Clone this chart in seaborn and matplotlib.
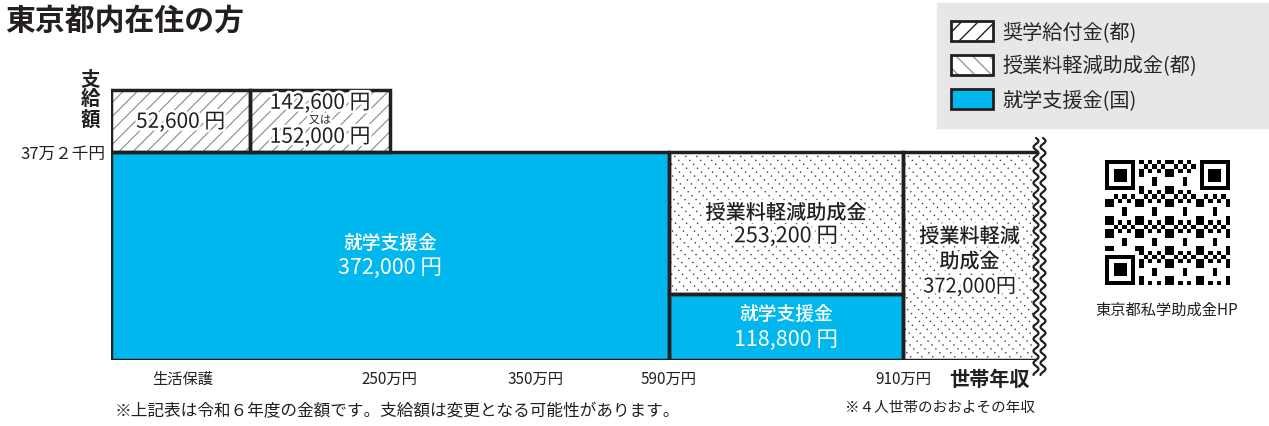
import numpy as np
import seaborn as sns
import matplotlib.pyplot as plt
import matplotlib.patheffects as pe
from matplotlib.patches import Patch, Rectangle
from matplotlib.legend_handler import HandlerTuple

sns.set_theme(style='white')
plt.rcParams['font.family'] = ['Noto Sans CJK JP', 'DejaVu Sans']

# --- data ---
income_labels = ['生活保護', '250万円', '350万円', '590万円', '910万円']
scholarship_text = ['52,600 円', '142,600 円', '152,000 円']   # 奨学給付金(都)
support_amounts = [372000, 118800]     # 就学支援金(国)
tuition_amounts = [253200, 372000]     # 授業料軽減助成金(都)
max_amount = 372000
legend_labels = ['奨学給付金(都)', '授業料軽減助成金(都)', '就学支援金(国)']

# --- layout (schematic, not to income scale) ---
col_edges = [0, 139, 279, 558, 792, 935]
tick_pos = [72, 278, 425, 558, 792]
band_h = 0.30 * max_amount

BLUE = '#00b7ee'
INK = '#231f20'
W, H = 1269, 426

fig = plt.figure(figsize=(W / 100, H / 100), dpi=100)
ax = fig.add_axes([111 / W, 66 / H, 949 / W, 280 / H])
ax.set_xlim(0, 949)
ytop = 280 * max_amount / 208
ax.set_ylim(0, ytop)
ypp = ytop / 280  # yen per pixel
halo = [pe.withStroke(linewidth=4, foreground='white')]


def block(x0, x1, y0, h, face, lines=None):
    fill = ax.bar(x0, h, width=x1 - x0, bottom=y0, align='edge',
                  color=face, lw=0, zorder=1)[0]
    if lines:
        step, sign, style = lines
        hpx = h / ypp
        for c in np.arange(x0 - hpx, x1 + step, step):
            ys = [y0, y0 + h] if sign > 0 else [y0 + h, y0]
            ln, = ax.plot([c, c + hpx], ys, zorder=2, **style)
            ln.set_clip_path(fill)
    ax.bar(x0, h, width=x1 - x0, bottom=y0, align='edge', fill=False,
           edgecolor=INK, lw=2.5, zorder=3)


sch_style = (14, 1, dict(color='#8a8a8a', lw=0.8))
tui_style = (11, -1, dict(color='#3a3a3a', lw=1.0, ls=(0, (1, 3))))

# 就学支援金(国)
block(col_edges[0], col_edges[3], 0, support_amounts[0], BLUE)
block(col_edges[3], col_edges[4], 0, support_amounts[1], BLUE)
# 授業料軽減助成金(都)
block(col_edges[3], col_edges[4], support_amounts[1], tuition_amounts[0], 'white', tui_style)
block(col_edges[4], col_edges[5], 0, tuition_amounts[1], 'white', tui_style)
# 奨学給付金(都)
block(col_edges[0], col_edges[1], max_amount, band_h, 'white', sch_style)
block(col_edges[1], col_edges[2], max_amount, band_h, 'white', sch_style)

# wavy break on the right
ypx = np.linspace(-15, 222, 400)
wy = ypx * ypp
wl = 925 + 2.5 * np.sin(2 * np.pi * ypx / 12)
wr = wl + 7
ax.fill_betweenx(wy, wl, 965, color='white', zorder=4, clip_on=False)
ax.plot(wl, wy, color=INK, lw=1.6, zorder=5, clip_on=False)
ax.plot(wr, wy, color=INK, lw=1.6, zorder=5, clip_on=False)


# block labels
def mid(a, b):
    return (a + b) / 2


tk = dict(ha='center', va='center', zorder=6)
cx = mid(col_edges[0], col_edges[3])
cy = support_amounts[0] / 2
ax.text(cx, cy + 13 * ypp, '就学支援金', color='white', fontsize=13.5, fontweight='medium', **tk)
ax.text(cx, cy - 12 * ypp, f'{support_amounts[0]:,} 円', color='white', fontsize=15.5, **tk)

cx = mid(col_edges[3], col_edges[4])
cy = support_amounts[1] + tuition_amounts[0] / 2 - 2 * ypp
ax.text(cx, cy + 11.5 * ypp, '授業料軽減助成金', color=INK, fontsize=14.5, fontweight='medium', path_effects=halo, **tk)
ax.text(cx, cy - 11.5 * ypp, f'{tuition_amounts[0]:,} 円', color=INK, fontsize=15.5, path_effects=halo, **tk)

cy = support_amounts[1] / 2
ax.text(cx, cy + 12.5 * ypp, '就学支援金', color='white', fontsize=13.5, fontweight='medium', **tk)
ax.text(cx, cy - 13 * ypp, f'{support_amounts[1]:,} 円', color='white', fontsize=15.5, **tk)

cx = mid(col_edges[4], 925)
cy = tuition_amounts[1] / 2 - 6 * ypp
ax.text(cx, cy + 25 * ypp, '授業料軽減', color=INK, fontsize=14.5, fontweight='medium', path_effects=halo, **tk)
ax.text(cx, cy, '助成金', color=INK, fontsize=14.5, fontweight='medium', path_effects=halo, **tk)
ax.text(cx, cy - 25 * ypp, f'{tuition_amounts[1]:,}円', color=INK, fontsize=14.5, path_effects=halo, **tk)

cy = max_amount + band_h / 2
ax.text(mid(col_edges[0], col_edges[1]), cy - 1 * ypp, scholarship_text[0], color=INK, fontsize=15, path_effects=halo, **tk)
cx = mid(col_edges[1], col_edges[2])
ax.text(cx, cy + 18 * ypp, scholarship_text[1], color=INK, fontsize=15, path_effects=halo, **tk)
ax.text(cx, cy + 0.5 * ypp, '又は', color=INK, fontsize=8, path_effects=halo, **tk)
ax.text(cx, cy - 16 * ypp, scholarship_text[2], color=INK, fontsize=15, path_effects=halo, **tk)

# axes
ax.set_xticks(tick_pos, income_labels)
ax.set_yticks([max_amount], ['37万２千円'])
ax.tick_params(axis='x', length=0, pad=8, labelsize=11, labelcolor=INK)
ax.tick_params(axis='y', length=0, pad=4, labelsize=12, labelcolor=INK)
ax.grid(False)
for s in ax.spines.values():
    s.set_visible(False)

fig.text(90 / W, 1 - 100 / H, '支\n給\n額', ha='center', va='center', fontsize=14,
         fontweight='bold', linespacing=1.05, color=INK)
fig.text(990 / W, 1 - 380 / H, '世帯年収', ha='center', va='center', fontsize=14.5,
         fontweight='bold', color=INK)
fig.text(5 / W, 1 - 21 / H, '東京都内在住の方', va='center', fontsize=21.5,
         fontweight='bold', color=INK)
fig.text(115 / W, 1 - 412 / H, '※上記表は令和６年度の金額です。支給額は変更となる可能性があります。',
         va='center', fontsize=12, color=INK)
fig.text(940 / W, 1 - 408 / H, '※４人世帯のおおよその年収', ha='center', va='center',
         fontsize=10.5, color=INK)

# legend on grey panel
fig.patches.append(Rectangle((937 / W, 1 - 128 / H), (W - 937) / W, 125 / H,
                             transform=fig.transFigure, color='#e6e7e8', zorder=0))
handles = [
    Patch(facecolor='white', edgecolor=INK, hatch='//', lw=2),
    (Patch(facecolor='white', edgecolor='#999999', hatch='\\\\', lw=0),
     Patch(facecolor='none', edgecolor=INK, lw=2)),
    Patch(facecolor=BLUE, edgecolor=INK, lw=2),
]
fig.legend(handles, legend_labels, loc='center left', bbox_to_anchor=(933 / W, 1 - 66 / H),
           frameon=False, fontsize=14.5, handlelength=2.1, handleheight=1.1,
           labelspacing=0.62, handletextpad=0.45,
           handler_map={tuple: HandlerTuple(ndivide=1)})

# QR code placeholder
qax = fig.add_axes([1105 / W, 1 - 285 / H, 125 / W, 125 / H])
n = 29
ii, jj = np.meshgrid(np.arange(n), np.arange(n), indexing='ij')
qr = (((ii * ii * 3 + jj * jj * 5 + ii * jj * 7 + ii + 2 * jj) % 7) < 3).astype(float)
for r0, c0 in [(0, 0), (0, n - 7), (n - 7, 0)]:
    qr[max(r0 - 1, 0):r0 + 8, max(c0 - 1, 0):c0 + 8] = 0
    qr[r0:r0 + 7, c0:c0 + 7] = 1
    qr[r0 + 1:r0 + 6, c0 + 1:c0 + 6] = 0
    qr[r0 + 2:r0 + 5, c0 + 2:c0 + 5] = 1
qax.imshow(qr, cmap='gray_r', interpolation='nearest')
qax.axis('off')
fig.text(1167 / W, 1 - 310 / H, '東京都私学助成金HP', ha='center', va='center',
         fontsize=11, color=INK)

fig.savefig('out.png', dpi=100)
